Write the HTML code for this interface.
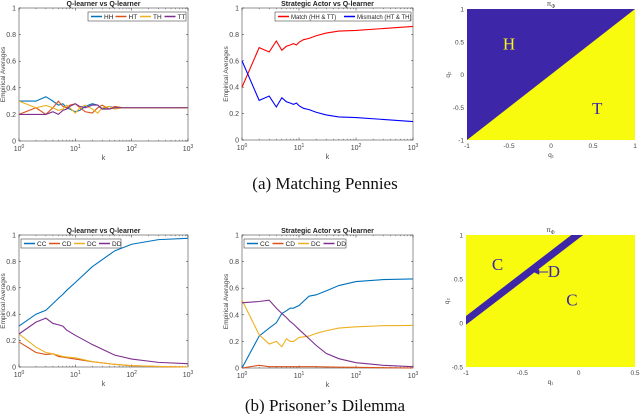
<!DOCTYPE html>
<html><head><meta charset="utf-8"><style>
html,body{margin:0;padding:0;background:#fff;}
svg{display:block;font-family:"Liberation Sans",sans-serif;}
.cap{font-family:"Liberation Serif",serif;font-size:17px;fill:#111;}
</style></head><body>
<svg id="fig" width="640" height="414" viewBox="0 0 640 414">
<text class="cap" x="325" y="189" text-anchor="middle">(a) Matching Pennies</text>
<text class="cap" x="325" y="411" text-anchor="middle">(b) Prisoner’s Dilemma</text>
</svg>
<script>
// ---- data ----
const kA = [1,2,3,4,5,6,7,8,10,12,15,20,25,30,40,50,70,100,1000];
const hhA = [0.30,0.30,0.333,0.30,0.27,0.28,0.25,0.24,0.22,0.23,0.26,0.28,0.27,0.24,0.26,0.25,0.25,0.25,0.25];
const htA = [0.20,0.25,0.20,0.25,0.30,0.26,0.25,0.27,0.28,0.25,0.22,0.21,0.25,0.27,0.24,0.26,0.25,0.25,0.25];
const thA = [0.30,0.25,0.267,0.25,0.23,0.24,0.27,0.25,0.21,0.25,0.27,0.24,0.21,0.25,0.26,0.24,0.25,0.25,0.25];
const ttA = [0.20,0.20,0.20,0.22,0.20,0.23,0.24,0.26,0.28,0.26,0.25,0.27,0.27,0.24,0.24,0.25,0.25,0.25,0.25];
const kB = [1,2,3,4,5,6,7,8,9,10,12,15,20,30,50,100,1000];
const matchB = [0.40,0.70,0.667,0.75,0.68,0.71,0.72,0.73,0.72,0.74,0.76,0.77,0.79,0.81,0.825,0.83,0.86];
const mismatchB = [0.60,0.30,0.333,0.25,0.32,0.29,0.28,0.27,0.28,0.26,0.24,0.23,0.21,0.19,0.175,0.17,0.14];
const kC = [1,2,3,4,5,6,7,10,20,50,100,300,1000];
const ccC = [0.31,0.40,0.43,0.48,0.52,0.55,0.58,0.64,0.76,0.88,0.93,0.965,0.975];
const cdC = [0.19,0.11,0.095,0.10,0.08,0.075,0.07,0.06,0.04,0.02,0.01,0.003,0.0];
const dcC = [0.25,0.15,0.11,0.10,0.09,0.08,0.075,0.07,0.04,0.02,0.01,0.004,0.0];
const ddC = [0.25,0.34,0.37,0.33,0.32,0.31,0.28,0.24,0.17,0.09,0.06,0.035,0.025];
const kD = [1,2,3,4,5,6,7,8,10,15,20,30,50,100,300,1000];
const ccD = [0.0,0.24,0.30,0.34,0.41,0.43,0.45,0.45,0.47,0.54,0.55,0.58,0.62,0.65,0.665,0.67];
const cdD = [0.0,0.02,0.01,0.01,0.01,0.01,0.01,0.01,0.01,0.01,0.01,0.008,0.006,0.005,0.002,0.0];
const dcD = [0.51,0.25,0.18,0.20,0.16,0.22,0.20,0.20,0.23,0.24,0.26,0.28,0.30,0.31,0.318,0.32];
const ddD = [0.49,0.50,0.51,0.45,0.41,0.38,0.35,0.33,0.29,0.22,0.17,0.11,0.07,0.04,0.02,0.01];
const yTicks = [0,0.2,0.4,0.6,0.8,1];
const xExp = [0,1,2,3];

const NS="http://www.w3.org/2000/svg";
const svg=document.getElementById('fig');
function mk(tag,attrs,parent){const e=document.createElementNS(NS,tag);for(const a in attrs)e.setAttribute(a,attrs[a]);(parent||svg).appendChild(e);return e;}

function lineChart(id,box,title,ks,series,names,colors,legend){
  const g=mk('g',{});
  
  
  const [x0,y0,x1,y1]=box;
  const xs=k=>x0+(Math.log10(k)/3)*(x1-x0);
  const ys=v=>y1-v*(y1-y0);
  mk('rect',{x:x0,y:y0,width:x1-x0,height:y1-y0,fill:'#fff',stroke:'#262626','stroke-width':0.5},g);
  for(const t of yTicks){
    const y=ys(t);
    mk('line',{x1:x0,x2:x0+2,y1:y,y2:y,stroke:'#262626','stroke-width':0.5},g);
    mk('line',{x1:x1-2,x2:x1,y1:y,y2:y,stroke:'#262626','stroke-width':0.5},g);
    const tl=mk('text',{x:x0-3,y:y+2.5,'font-size':7,fill:'#444','text-anchor':'end'},g);
    tl.textContent=String(t);
    
    
  }
  for(let e=0;e<3;e++)for(let m=2;m<10;m++){
    const x=xs(m*Math.pow(10,e));
    mk('line',{x1:x,x2:x,y1:y1,y2:y1-1.2,stroke:'#262626','stroke-width':0.4},g);
    mk('line',{x1:x,x2:x,y1:y0,y2:y0+1.2,stroke:'#262626','stroke-width':0.4},g);
  }
  for(const e of xExp){
    const x=xs(Math.pow(10,e));
    mk('line',{x1:x,x2:x,y1:y1,y2:y1-2.5,stroke:'#262626','stroke-width':0.5},g);
    mk('line',{x1:x,x2:x,y1:y0,y2:y0+2.5,stroke:'#262626','stroke-width':0.5},g);
    const tl=mk('text',{x:x,y:y1+10,'font-size':7,fill:'#444','text-anchor':'middle'},g);
    tl.textContent='10';
    const sp=mk('tspan',{dy:-3,'font-size':5},tl);sp.textContent=String(e);
    
    
  }
  const xl=mk('text',{x:(x0+x1)/2,y:y1+19,'font-size':7,fill:'#444','text-anchor':'middle'},g);
  xl.textContent='k';
  
  
  const yl=mk('text',{x:0,y:0,'font-size':6.5,fill:'#444','text-anchor':'middle',transform:`translate(${x0-14},${(y0+y1)/2}) rotate(-90)`},g);
  yl.textContent='Empirical Averages';
  
  
  const tt=mk('text',{x:(x0+x1)/2,y:y0-2,'font-size':7,'font-weight':'bold',fill:'#222','text-anchor':'middle'},g);
  tt.textContent=title;
  
  
  series.forEach((s,i)=>{
    const d=s.map((v,j)=>(j?'L':'M')+xs(ks[j]).toFixed(2)+','+ys(v).toFixed(2)).join(' ');
    const p=mk('path',{d:d,fill:'none',stroke:colors[i],'stroke-width':1.1},g);
    
    
  });
  const [lx,ly,lw,lh,itemW,fs]=legend;
  const lg=mk('g',{},g);
  
  
  mk('rect',{x:lx,y:ly,width:lw,height:lh,fill:'#fff',stroke:'#262626','stroke-width':0.5},lg);
  names.forEach((n,i)=>{
    const ix=lx+3+i*itemW;
    const ln=mk('path',{d:`M${ix},${ly+lh/2} H${ix+11}`,fill:'none',stroke:colors[i],'stroke-width':1.5},lg);
    
    
    const t=mk('text',{x:ix+13,y:ly+lh/2+2.4,'font-size':fs,fill:'#222'},lg);
    t.textContent=n;
    
    
  });
}
const C4=['#0072BD','#D95319','#EDB120','#7E2F8E'];
lineChart('chart-mp-qlearner',[19,8,188,141],'Q-learner vs Q-learner',kA,[hhA,htA,thA,ttA],['HH','HT','TH','TT'],C4,[88,12,98,9,24.5,6.5]);
lineChart('chart-mp-strategic',[242,8,413,140],'Strategic Actor vs Q-learner',kB,[matchB,mismatchB],['Match (HH & TT)','Mismatch (HT & TH)'],['#ff0000','#0000ff'],[275,12,136,9,66,6]);
lineChart('chart-pd-qlearner',[19,235,188,367],'Q-learner vs Q-learner',kC,[ccC,cdC,dcC,ddC],['CC','CD','DC','DD'],C4,[21,239,100,9,25,6.5]);
lineChart('chart-pd-strategic',[242,235,413,368],'Strategic Actor vs Q-learner',kD,[ccD,cdD,dcD,ddD],['CC','CD','DC','DD'],C4,[244,239,102,9,25.5,6.5]);

// ---- heatmaps ----
function heat(id,box,xr,yr,xt,yt,polys,labels){
  const g=mk('g',{});
  
  
  const [x0,y0,x1,y1]=box;
  const xs=v=>x0+(v-xr[0])/(xr[1]-xr[0])*(x1-x0);
  const ys=v=>y1-(v-yr[0])/(yr[1]-yr[0])*(y1-y0);
  polys.forEach(([pts,col])=>{
    const p=mk('polygon',{points:pts.map(q=>xs(q[0])+','+ys(q[1])).join(' '),fill:col},g);
    
    
  });
  for(const t of xt){
    const tl=mk('text',{x:xs(t),y:y1+8,'font-size':6.5,fill:'#444','text-anchor':'middle'},g);
    tl.textContent=String(t);
    
    
  }
  for(const t of yt){
    const tl=mk('text',{x:x0-3,y:ys(t)+2.5,'font-size':6.5,fill:'#444','text-anchor':'end'},g);
    tl.textContent=String(t);
    
    
  }
  const xl=mk('text',{x:(x0+x1)/2,y:y1+17,'font-size':6.5,fill:'#444','text-anchor':'middle'},g);
  xl.textContent='q₁';
  
  
  const yl=mk('text',{x:0,y:0,'font-size':6.5,fill:'#444','text-anchor':'middle',transform:`translate(${x0-17},${(y0+y1)/2}) rotate(-90)`},g);
  yl.textContent='q₂';
  
  
  const tt=mk('text',{x:(x0+x1)/2,y:y0-3,'font-size':6.5,fill:'#333','text-anchor':'middle'},g);
  tt.textContent='π';
  const sub=mk('tspan',{dy:2,'font-size':5},tt);sub.textContent='Φ';
  
  
  labels.forEach(([txt,q1,q2,col])=>{
    const t=mk('text',{x:xs(q1),y:ys(q2),'font-size':17,fill:col,'font-family':'Liberation Serif, serif','text-anchor':'middle'},g);
    t.textContent=txt;
    
    
  });
  return {xs,ys,g};
}
const BL='#3e26a8', YL='#f9fb0e';
heat('heatmap-mp',[467,9,635,140],[-1,1],[-1,1],[-1,-0.5,0,0.5,1],[1,0.5,0,-0.5,-1],
  [[[[-1,-1],[1,-1],[1,1],[-1,1]],YL],[[[-1,-1],[1,1],[-1,1]],BL]],
  [['H',-0.5,0.38,YL],['T',0.55,-0.6,BL]]);
const h2=heat('heatmap-pd',[466,235,635,367],[-1,0.5],[-0.5,1],[-1,-0.5,0,0.5],[1,0.5,0,-0.5],
  [[[[-1,-0.5],[0.5,-0.5],[0.5,1],[-1,1]],YL],[[[-1,-0.02],[-1,0.08],[-0.065,1],[0.04,1]],BL]],
  [['C',-0.72,0.6,BL],['C',-0.06,0.2,BL],['D',-0.22,0.52,BL]]);
const ar=mk('path',{d:`M${h2.xs(-0.27)},${h2.ys(0.58)} L${h2.xs(-0.39)},${h2.ys(0.58)} M${h2.xs(-0.39)},${h2.ys(0.58)} l4,-2 l0,4 z`,stroke:BL,fill:BL,'stroke-width':1},h2.g);


</script>
</body></html>
